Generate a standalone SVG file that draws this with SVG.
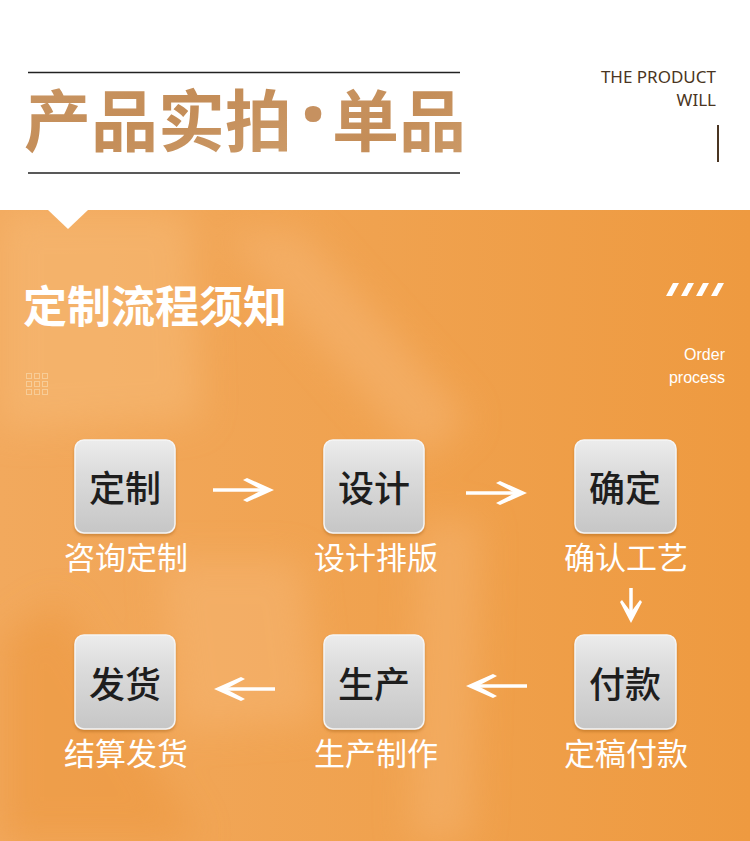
<svg xmlns="http://www.w3.org/2000/svg" width="750" height="841" viewBox="0 0 750 841">
<defs>
<linearGradient id="bg" x1="0" y1="0" x2="1" y2="0">
<stop offset="0" stop-color="#f2a95d"/>
<stop offset="0.5" stop-color="#f0a24f"/>
<stop offset="1" stop-color="#ee9a40"/>
</linearGradient>
<linearGradient id="box" x1="0" y1="0" x2="0" y2="1">
<stop offset="0" stop-color="#ececec"/>
<stop offset="0.35" stop-color="#dcdcdc"/>
<stop offset="1" stop-color="#c6c6c6"/>
</linearGradient>
<linearGradient id="cork" x1="0" y1="0" x2="1" y2="1">
<stop offset="0" stop-color="#c99664"/>
<stop offset="0.5" stop-color="#c48d58"/>
<stop offset="1" stop-color="#cc9b69"/>
</linearGradient>
<clipPath id="orangeClip"><rect x="0" y="210" width="750" height="631"/></clipPath>
<filter id="blur" x="-20%" y="-20%" width="140%" height="140%"><feGaussianBlur stdDeviation="18"/></filter>
<filter id="sh" x="-10%" y="-10%" width="120%" height="130%"><feDropShadow dx="0" dy="2" stdDeviation="1.5" flood-color="#8a4a10" flood-opacity="0.35"/></filter>
</defs>
<style>
.boxr{fill:url(#box);stroke:#f5f5f5;stroke-width:1.5;filter:url(#sh)}
.bt{font-family:"Noto Sans CJK SC","Noto Sans",sans-serif;font-size:36px;font-weight:500;fill:#1e1e1e;text-anchor:middle}
.lb{font-family:"Noto Sans CJK SC","Noto Sans",sans-serif;font-size:31px;font-weight:400;fill:#ffffff;text-anchor:middle}
.arr{stroke:#ffffff;stroke-width:3.5;fill:none}
.head{fill:#ffffff}
.en{font-family:"Liberation Sans","Noto Sans",sans-serif;fill:#ffffff;font-size:16px;text-anchor:end}
.ttl{font-family:"Noto Sans CJK SC",sans-serif;font-size:67px;font-weight:700;fill:url(#cork)}
</style>
<rect x="0" y="0" width="750" height="210" fill="#ffffff"/>
<g id="header">
<line x1="28" y1="72.5" x2="460" y2="72.5" stroke="#222" stroke-width="1.5"/>
<line x1="28" y1="173" x2="460" y2="173" stroke="#222" stroke-width="1.5"/>
<text class="ttl" x="24" y="146">产品实拍</text>
<text x="313" y="148" font-family="Noto Sans, sans-serif" font-size="95" font-weight="700" fill="#c69160" text-anchor="middle">·</text>
<text class="ttl" x="332" y="146">单品</text>
<text font-family="Noto Sans, Liberation Sans, sans-serif" font-size="17" fill="#4a3522" text-anchor="end" x="716" y="83">THE PRODUCT</text>
<text font-family="Noto Sans, Liberation Sans, sans-serif" font-size="17" fill="#4a3522" text-anchor="end" x="716" y="106">WILL</text>
<line x1="718" y1="125" x2="718" y2="162" stroke="#4a3522" stroke-width="2"/>
</g>
<g id="background" clip-path="url(#orangeClip)">
<rect x="0" y="210" width="750" height="631" fill="url(#bg)"/>
<g filter="url(#blur)" opacity="0.55">
<polygon points="0,210 190,210 200,420 0,430" fill="#f7bb78"/>
<polygon points="220,230 300,230 470,420 420,460" fill="#f6b673"/>
<polygon points="420,520 480,520 470,841 410,841" fill="#f5b470"/>
<polygon points="160,560 300,560 320,720 180,730" fill="#f6b673"/>
<polygon points="0,640 60,600 200,841 0,841" fill="#ec963c"/>
</g>
<polygon points="48,210 88,210 68,229" fill="#ffffff"/>
</g>
<g id="section-title">
<text font-family="Noto Sans CJK SC,sans-serif" font-size="44" font-weight="700" fill="#ffffff" x="23" y="323">定制流程须知</text>
<g fill="#ffffff">
<polygon points="673,283 679,283 672,296 666,296"/>
<polygon points="688,283 694,283 687,296 681,296"/>
<polygon points="703,283 709,283 702,296 696,296"/>
<polygon points="718,283 724,283 717,296 711,296"/>
</g>
<text class="en" x="725" y="360">Order</text>
<text class="en" x="725" y="383">process</text>
<g fill="none" stroke="#f8cf9c" stroke-width="1" opacity="0.9">
<rect x="26.5" y="373.5" width="5" height="5"/><rect x="34.5" y="373.5" width="5" height="5"/><rect x="42.5" y="373.5" width="5" height="5"/>
<rect x="26.5" y="381.5" width="5" height="5"/><rect x="34.5" y="381.5" width="5" height="5"/><rect x="42.5" y="381.5" width="5" height="5"/>
<rect x="26.5" y="389.5" width="5" height="5"/><rect x="34.5" y="389.5" width="5" height="5"/><rect x="42.5" y="389.5" width="5" height="5"/>
</g>
</g>
<g id="node-dingzhi"><rect class="boxr" x="75" y="440" width="100" height="93" rx="9"/><text class="bt" x="125" y="502">定制</text><text class="lb" x="126" y="569">咨询定制</text></g>
<g id="node-sheji"><rect class="boxr" x="324" y="440" width="100" height="93" rx="9"/><text class="bt" x="374" y="502">设计</text><text class="lb" x="376" y="569">设计排版</text></g>
<g id="node-queding"><rect class="boxr" x="575" y="440" width="101" height="93" rx="9"/><text class="bt" x="625" y="502">确定</text><text class="lb" x="626" y="569">确认工艺</text></g>
<g id="node-fukuan"><rect class="boxr" x="575" y="635" width="101" height="94" rx="9"/><text class="bt" x="625" y="698">付款</text><text class="lb" x="626" y="765">定稿付款</text></g>
<g id="node-shengchan"><rect class="boxr" x="324" y="635" width="100" height="94" rx="9"/><text class="bt" x="374" y="698">生产</text><text class="lb" x="376" y="765">生产制作</text></g>
<g id="node-fahuo"><rect class="boxr" x="75" y="635" width="100" height="94" rx="9"/><text class="bt" x="125" y="698">发货</text><text class="lb" x="126" y="765">结算发货</text></g>
<g id="connectors">
<line class="arr" x1="213" y1="490" x2="268" y2="490"/>
<path class="head" d="M274,490 L247,478 L243,480 L262,490 L243,500 L247,502 Z"/>
<line class="arr" x1="466" y1="493" x2="521" y2="493"/>
<path class="head" d="M527,493 L500,481 L496,483 L515,493 L496,503 L500,505 Z"/>
<line class="arr" x1="631" y1="588" x2="631" y2="617"/>
<path class="head" d="M631,623 L620,602 L622,600 L631,612 L640,600 L642,602 Z"/>
<line class="arr" x1="527" y1="686" x2="472" y2="686"/>
<path class="head" d="M466,686 L493,674 L497,676 L478,686 L497,696 L493,698 Z"/>
<line class="arr" x1="275" y1="689" x2="220" y2="689"/>
<path class="head" d="M214,689 L241,677 L245,679 L226,689 L245,699 L241,701 Z"/>
</g>
</svg>
